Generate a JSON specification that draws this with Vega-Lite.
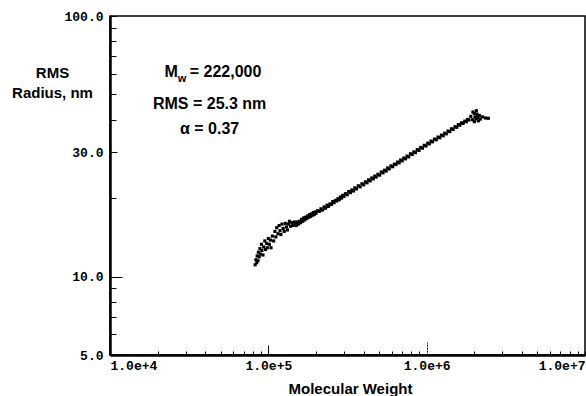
{
  "$schema": "https://vega.github.io/schema/vega-lite/v6.json",
  "width": 475,
  "height": 339,
  "autosize": {"type": "none"},
  "padding": {"left": 110, "top": 16, "right": 1, "bottom": 41},
  "background": "white",
  "config": {
    "view": {"stroke": "black", "strokeWidth": 1.5},
    "axis": {"grid": false, "labelOverlap": false, "labelBound": false}
  },
  "datasets": {
    "pts": [
      {"mw": 82500, "rms": 11.1}, {"mw": 83500, "rms": 11.6}, {"mw": 84500, "rms": 11.3}, {"mw": 85000, "rms": 12.0},
      {"mw": 86000, "rms": 11.5}, {"mw": 86500, "rms": 12.4}, {"mw": 87500, "rms": 11.9}, {"mw": 88500, "rms": 12.8},
      {"mw": 89000, "rms": 12.2}, {"mw": 90500, "rms": 13.3}, {"mw": 91000, "rms": 12.6}, {"mw": 92500, "rms": 12.1},
      {"mw": 93500, "rms": 13.0}, {"mw": 95000, "rms": 13.7}, {"mw": 96000, "rms": 12.7}, {"mw": 97500, "rms": 13.4},
      {"mw": 98500, "rms": 12.9}, {"mw": 100000, "rms": 14.0}, {"mw": 101500, "rms": 13.3}, {"mw": 103000, "rms": 13.8},
      {"mw": 104000, "rms": 12.9}, {"mw": 106000, "rms": 14.3}, {"mw": 108000, "rms": 13.7}, {"mw": 110000, "rms": 14.9},
      {"mw": 111500, "rms": 14.2}, {"mw": 113000, "rms": 15.4}, {"mw": 115000, "rms": 14.6}, {"mw": 117000, "rms": 15.7},
      {"mw": 118500, "rms": 15.0}, {"mw": 120000, "rms": 14.5}, {"mw": 122000, "rms": 15.9}, {"mw": 124000, "rms": 15.3},
      {"mw": 126000, "rms": 14.9}, {"mw": 128000, "rms": 16.0}, {"mw": 130000, "rms": 15.5}, {"mw": 132000, "rms": 15.1},
      {"mw": 134000, "rms": 15.9}, {"mw": 136000, "rms": 16.3}, {"mw": 138000, "rms": 15.6}, {"mw": 141000, "rms": 16.1},
      {"mw": 143000, "rms": 15.7}, {"mw": 146000, "rms": 16.2}, {"mw": 148000, "rms": 15.9},
      {"mw": 150000, "rms": 15.7}, {"mw": 150000, "rms": 16.0}, {"mw": 152500, "rms": 16.2}, {"mw": 155000, "rms": 15.9},
      {"mw": 157500, "rms": 16.3}, {"mw": 160000, "rms": 16.1}, {"mw": 162500, "rms": 16.6}, {"mw": 165000, "rms": 16.3},
      {"mw": 167500, "rms": 16.8}, {"mw": 170000, "rms": 16.5}, {"mw": 172500, "rms": 16.9}, {"mw": 175000, "rms": 16.7},
      {"mw": 177500, "rms": 17.1}, {"mw": 180000, "rms": 16.9}, {"mw": 182500, "rms": 17.3}, {"mw": 185000, "rms": 17.0},
      {"mw": 187500, "rms": 17.4}, {"mw": 190000, "rms": 17.2}, {"mw": 192500, "rms": 17.6}, {"mw": 195000, "rms": 17.3},
      {"mw": 197500, "rms": 17.7}, {"mw": 200000, "rms": 17.5}, {"mw": 205000, "rms": 17.9}, {"mw": 210000, "rms": 17.8},
      {"mw": 215000, "rms": 18.2}, {"mw": 220000, "rms": 18.0}, {"mw": 225000, "rms": 18.5}, {"mw": 230000, "rms": 18.3},
      {"mw": 235000, "rms": 18.8}, {"mw": 240000, "rms": 18.6}, {"mw": 245000, "rms": 19.0}, {"mw": 250000, "rms": 18.9},
      {"mw": 255000, "rms": 19.4}, {"mw": 260000, "rms": 19.2}, {"mw": 265000, "rms": 19.6}, {"mw": 270000, "rms": 19.5},
      {"mw": 275000, "rms": 19.9}, {"mw": 280000, "rms": 19.7}, {"mw": 285000, "rms": 20.2}, {"mw": 290000, "rms": 20.0},
      {"mw": 295000, "rms": 20.5}, {"mw": 300000, "rms": 20.3}, {"mw": 307000, "rms": 20.8}, {"mw": 315000, "rms": 20.6},
      {"mw": 322000, "rms": 21.2}, {"mw": 330000, "rms": 21.0}, {"mw": 337000, "rms": 21.5}, {"mw": 345000, "rms": 21.3},
      {"mw": 352000, "rms": 21.9}, {"mw": 360000, "rms": 21.7}, {"mw": 370000, "rms": 22.3}, {"mw": 380000, "rms": 22.1},
      {"mw": 390000, "rms": 22.7}, {"mw": 400000, "rms": 22.5}, {"mw": 410000, "rms": 23.1}, {"mw": 420000, "rms": 22.9},
      {"mw": 430000, "rms": 23.5}, {"mw": 440000, "rms": 23.3}, {"mw": 450000, "rms": 23.9}, {"mw": 460000, "rms": 23.7},
      {"mw": 470000, "rms": 24.3}, {"mw": 480000, "rms": 24.1}, {"mw": 492000, "rms": 24.7}, {"mw": 505000, "rms": 24.5},
      {"mw": 517000, "rms": 25.2}, {"mw": 530000, "rms": 25.0}, {"mw": 542000, "rms": 25.6}, {"mw": 555000, "rms": 25.4},
      {"mw": 567000, "rms": 26.1}, {"mw": 580000, "rms": 25.9}, {"mw": 595000, "rms": 26.6}, {"mw": 610000, "rms": 26.4},
      {"mw": 625000, "rms": 27.0}, {"mw": 640000, "rms": 26.9}, {"mw": 655000, "rms": 27.5}, {"mw": 670000, "rms": 27.3},
      {"mw": 685000, "rms": 28.0}, {"mw": 700000, "rms": 27.8}, {"mw": 717000, "rms": 28.5}, {"mw": 735000, "rms": 28.3},
      {"mw": 752000, "rms": 29.0}, {"mw": 770000, "rms": 28.8}, {"mw": 790000, "rms": 29.6}, {"mw": 810000, "rms": 29.4},
      {"mw": 830000, "rms": 30.1}, {"mw": 850000, "rms": 29.9}, {"mw": 872000, "rms": 30.7}, {"mw": 895000, "rms": 30.5},
      {"mw": 917000, "rms": 31.3}, {"mw": 940000, "rms": 31.1}, {"mw": 965000, "rms": 31.9}, {"mw": 990000, "rms": 31.7},
      {"mw": 1015000, "rms": 32.5}, {"mw": 1040000, "rms": 32.3}, {"mw": 1065000, "rms": 33.1}, {"mw": 1090000, "rms": 32.9},
      {"mw": 1120000, "rms": 33.7}, {"mw": 1150000, "rms": 33.5}, {"mw": 1180000, "rms": 34.3}, {"mw": 1210000, "rms": 34.1},
      {"mw": 1240000, "rms": 34.9}, {"mw": 1270000, "rms": 34.7}, {"mw": 1300000, "rms": 35.5}, {"mw": 1330000, "rms": 35.3},
      {"mw": 1365000, "rms": 36.2}, {"mw": 1400000, "rms": 36.0}, {"mw": 1435000, "rms": 36.9}, {"mw": 1470000, "rms": 36.7},
      {"mw": 1510000, "rms": 37.6}, {"mw": 1550000, "rms": 37.4}, {"mw": 1585000, "rms": 38.3}, {"mw": 1620000, "rms": 38.1},
      {"mw": 1660000, "rms": 38.9}, {"mw": 1700000, "rms": 38.7}, {"mw": 1740000, "rms": 39.5}, {"mw": 1780000, "rms": 39.3},
      {"mw": 1815000, "rms": 40.1}, {"mw": 1850000, "rms": 39.9},
      {"mw": 1900000, "rms": 41.2}, {"mw": 1950000, "rms": 40.0}, {"mw": 2000000, "rms": 42.3}, {"mw": 2020000, "rms": 41.0},
      {"mw": 2050000, "rms": 40.3}, {"mw": 2080000, "rms": 42.0}, {"mw": 2100000, "rms": 40.8}, {"mw": 2120000, "rms": 39.6},
      {"mw": 2150000, "rms": 41.5}, {"mw": 2180000, "rms": 40.2}, {"mw": 2000000, "rms": 39.3}, {"mw": 2250000, "rms": 41.0},
      {"mw": 2350000, "rms": 40.6}, {"mw": 2450000, "rms": 40.5}, {"mw": 1960000, "rms": 42.8}, {"mw": 2060000, "rms": 43.3}
    ],
    "ann": [
      {"part": "center", "label": "RMS = 25.3 nm", "mw": 42600, "rms": 44.0},
      {"part": "center", "label": "α = 0.37", "mw": 42600, "rms": 35.2},
      {"part": "M", "label": "M", "mw": 26800, "rms": 58.3},
      {"part": "sub", "label": "w", "mw": 26800, "rms": 58.3},
      {"part": "rest", "label": "= 222,000", "mw": 26800, "rms": 58.3}
    ]
  },
  "encoding": {
    "x": {
      "field": "mw",
      "type": "quantitative",
      "scale": {"type": "log", "domain": [10000, 10000000], "nice": false},
      "axis": {
        "values": [10000, 20000, 30000, 40000, 50000, 60000, 70000, 80000, 90000, 100000, 200000, 300000, 400000, 500000, 600000, 700000, 800000, 900000, 1000000, 2000000, 3000000, 4000000, 5000000, 6000000, 7000000, 8000000, 9000000, 10000000],
        "labelExpr": "indexof([10000,100000,1000000,10000000], datum.value) >= 0 ? format(datum.value, '.1e') : ''",
        "labelFont": "Liberation Mono",
        "labelFontWeight": "bold",
        "labelFontSize": 13,
        "labelColor": "black",
        "labelFlush": true,
        "labelPadding": {"condition": [{"test": "datum.value == 100000", "value": 14}, {"test": "datum.value == 1000000", "value": 17}], "value": 8},
        "tickColor": "black",
        "tickWidth": 1,
        "tickSize": {"condition": [{"test": "datum.value == 100000", "value": -10}, {"test": "datum.value == 1000000", "value": -13}], "value": -4},
        "tickDash": {"condition": {"test": "datum.value == 1000000", "value": [2, 1]}, "value": []},
        "domainColor": "black",
        "domainWidth": 2.5,
        "title": "Molecular Weight",
        "titleFont": "Liberation Sans",
        "titleFontWeight": "bold",
        "titleFontSize": 15,
        "titleColor": "black",
        "titleAlign": "center",
        "titleBaseline": "alphabetic",
        "titleX": 240,
        "titleY": 38
      }
    },
    "y": {
      "field": "rms",
      "type": "quantitative",
      "scale": {"type": "log", "domain": [5, 100], "nice": false},
      "axis": {
        "values": [5, 6, 7, 8, 9, 10, 20, 30, 40, 50, 60, 70, 80, 90, 100],
        "labelExpr": "indexof([5,10,30,100], datum.value) >= 0 ? format(datum.value, '.1f') : ''",
        "labelFont": "Liberation Mono",
        "labelFontWeight": "bold",
        "labelFontSize": 13,
        "labelColor": "black",
        "labelPadding": {"condition": [{"test": "datum.value == 10", "value": 19}, {"test": "datum.value == 30", "value": 14}], "value": 13},
        "tickColor": "black",
        "tickWidth": 1,
        "tickSize": {"condition": [{"test": "datum.value == 10", "value": -12}, {"test": "datum.value == 30", "value": -7}], "value": -6},
        "domainColor": "black",
        "domainWidth": 2.5,
        "title": ["RMS", "Radius, nm"],
        "titleFont": "Liberation Sans",
        "titleFontWeight": "bold",
        "titleFontSize": 15,
        "titleColor": "black",
        "titleAngle": 0,
        "titleAlign": "center",
        "titleBaseline": "alphabetic",
        "titleLineHeight": 20,
        "titleX": -58,
        "titleY": 61
      }
    }
  },
  "layer": [
    {
      "data": {"name": "pts"},
      "mark": {"type": "point", "shape": "square", "filled": true, "size": 10, "color": "black", "opacity": 1}
    },
    {
      "data": {"name": "ann"},
      "transform": [{"filter": "datum.part == 'center'"}],
      "mark": {"type": "text", "align": "center", "baseline": "alphabetic", "font": "Liberation Sans", "fontWeight": "bold", "fontSize": 16, "color": "black"},
      "encoding": {"text": {"field": "label"}}
    },
    {
      "data": {"name": "ann"},
      "transform": [{"filter": "datum.part == 'M'"}],
      "mark": {"type": "text", "align": "right", "baseline": "alphabetic", "font": "Liberation Sans", "fontWeight": "bold", "fontSize": 16, "color": "black"},
      "encoding": {"text": {"field": "label"}}
    },
    {
      "data": {"name": "ann"},
      "transform": [{"filter": "datum.part == 'sub'"}],
      "mark": {"type": "text", "align": "left", "baseline": "alphabetic", "dy": 5, "font": "Liberation Sans", "fontWeight": "bold", "fontSize": 11, "color": "black"},
      "encoding": {"text": {"field": "label"}}
    },
    {
      "data": {"name": "ann"},
      "transform": [{"filter": "datum.part == 'rest'"}],
      "mark": {"type": "text", "align": "left", "baseline": "alphabetic", "dx": 12, "font": "Liberation Sans", "fontWeight": "bold", "fontSize": 16, "color": "black"},
      "encoding": {"text": {"field": "label"}}
    }
  ]
}
